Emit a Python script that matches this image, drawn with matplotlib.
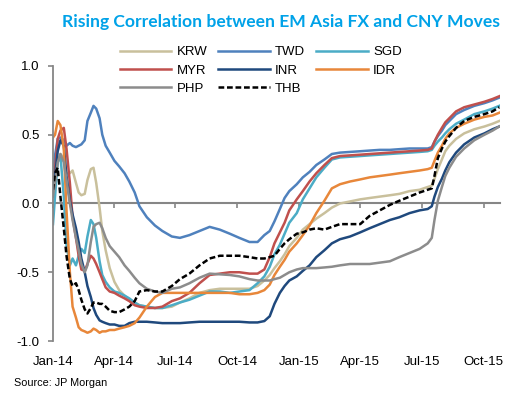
import pandas as pd
import matplotlib
matplotlib.use('Agg')
import matplotlib.pyplot as plt
import matplotlib.dates as mdates

plt.rcParams['font.family'] = ['Liberation Sans', 'DejaVu Sans']

dates = ['2014-01-01', '2014-01-04', '2014-01-08', '2014-01-12', '2014-01-17', '2014-01-21', '2014-01-26', '2014-01-30', '2014-02-04', '2014-02-08',
         '2014-02-12', '2014-02-17', '2014-02-21', '2014-02-26', '2014-03-02', '2014-03-06', '2014-03-11', '2014-03-15', '2014-03-20', '2014-03-26',
         '2014-04-02', '2014-04-09', '2014-04-17', '2014-04-24', '2014-05-02', '2014-05-09', '2014-05-20', '2014-06-01', '2014-06-12', '2014-06-26',
         '2014-07-08', '2014-07-22', '2014-08-06', '2014-08-21', '2014-09-05', '2014-09-20', '2014-10-04', '2014-10-19', '2014-10-31', '2014-11-10',
         '2014-11-18', '2014-11-25', '2014-12-03', '2014-12-10', '2014-12-17', '2014-12-28', '2015-01-06', '2015-01-16', '2015-01-26', '2015-02-07',
         '2015-02-18', '2015-03-02', '2015-03-17', '2015-04-01', '2015-04-15', '2015-04-30', '2015-05-15', '2015-05-29', '2015-06-13', '2015-06-28',
         '2015-07-10', '2015-07-16', '2015-07-20', '2015-07-25', '2015-07-31', '2015-08-05', '2015-08-11', '2015-08-21', '2015-09-02', '2015-09-17',
         '2015-10-02', '2015-10-14', '2015-10-24']

krw = [0.05, 0.15, 0.30, 0.36, 0.33, 0.22, 0.22, 0.24, 0.15, 0.08,
       0.06, 0.07, 0.17, 0.25, 0.26, 0.15, -0.03, -0.20, -0.34, -0.47,
       -0.57, -0.63, -0.67, -0.70, -0.72, -0.74, -0.75, -0.76, -0.76, -0.75,
       -0.72, -0.69, -0.65, -0.63, -0.62, -0.62, -0.62, -0.62, -0.60, -0.56,
       -0.52, -0.47, -0.42, -0.37, -0.31, -0.25, -0.19, -0.15, -0.11, -0.07,
       -0.03, 0.0, 0.015, 0.03, 0.04, 0.05, 0.06, 0.07, 0.09, 0.10,
       0.12, 0.13, 0.18, 0.25, 0.32, 0.38, 0.42, 0.47, 0.51, 0.54,
       0.56, 0.58, 0.60]

twd = [0.20, 0.35, 0.47, 0.48, 0.46, 0.42, 0.44, 0.42, 0.41, 0.42,
       0.43, 0.46, 0.60, 0.66, 0.71, 0.69, 0.62, 0.50, 0.42, 0.37,
       0.31, 0.27, 0.22, 0.16, 0.08, -0.02, -0.10, -0.16, -0.20, -0.24,
       -0.25, -0.23, -0.20, -0.17, -0.19, -0.22, -0.25, -0.28, -0.28, -0.23,
       -0.20, -0.13, -0.04, 0.04, 0.09, 0.14, 0.19, 0.23, 0.28, 0.32,
       0.36, 0.37, 0.375, 0.38, 0.385, 0.39, 0.39, 0.395, 0.40, 0.40,
       0.40, 0.41, 0.45, 0.49, 0.53, 0.57, 0.60, 0.65, 0.68, 0.71,
       0.73, 0.75, 0.77]

sgd = [-0.15, 0.05, 0.30, 0.35, 0.05, -0.30, -0.45, -0.40, -0.45, -0.38,
       -0.33, -0.36, -0.24, -0.12, -0.15, -0.25, -0.42, -0.52, -0.57, -0.61,
       -0.64, -0.65, -0.67, -0.69, -0.72, -0.74, -0.75, -0.76, -0.76, -0.74,
       -0.72, -0.70, -0.67, -0.64, -0.64, -0.65, -0.64, -0.63, -0.58, -0.53,
       -0.46, -0.37, -0.30, -0.22, -0.14, -0.07, 0.03, 0.11, 0.19, 0.26,
       0.32, 0.335, 0.34, 0.345, 0.35, 0.355, 0.36, 0.365, 0.37, 0.375,
       0.38, 0.39, 0.42, 0.45, 0.48, 0.51, 0.54, 0.58, 0.61, 0.65,
       0.67, 0.69, 0.71]

myr = [0.15, 0.25, 0.47, 0.53, 0.55, 0.40, 0.15, -0.10, -0.25, -0.38,
       -0.48, -0.49, -0.44, -0.38, -0.40, -0.44, -0.50, -0.55, -0.61, -0.64,
       -0.65, -0.67, -0.69, -0.71, -0.74, -0.75, -0.76, -0.76, -0.75, -0.71,
       -0.69, -0.65, -0.58, -0.52, -0.51, -0.50, -0.50, -0.51, -0.51, -0.48,
       -0.39, -0.29, -0.21, -0.14, -0.05, 0.03, 0.09, 0.16, 0.22, 0.28,
       0.33, 0.345, 0.35, 0.355, 0.36, 0.365, 0.37, 0.375, 0.38, 0.385,
       0.39, 0.40, 0.45, 0.50, 0.55, 0.59, 0.62, 0.67, 0.70, 0.72,
       0.74, 0.76, 0.78]

inr = [0.10, 0.20, 0.38, 0.46, 0.42, 0.20, 0.02, -0.08, -0.18, -0.28,
       -0.40, -0.50, -0.60, -0.68, -0.76, -0.81, -0.85, -0.86, -0.87, -0.88,
       -0.88, -0.89, -0.89, -0.87, -0.86, -0.86, -0.86, -0.865, -0.87, -0.87,
       -0.87, -0.865, -0.86, -0.86, -0.86, -0.86, -0.86, -0.865, -0.865, -0.855,
       -0.82, -0.73, -0.65, -0.60, -0.56, -0.53, -0.49, -0.45, -0.39, -0.34,
       -0.29, -0.26, -0.24, -0.21, -0.18, -0.15, -0.12, -0.10, -0.07, -0.05,
       -0.04, -0.02, 0.05, 0.12, 0.18, 0.24, 0.30, 0.37, 0.43, 0.48,
       0.51, 0.54, 0.56]

idr = [0.48, 0.50, 0.60, 0.57, 0.40, -0.05, -0.50, -0.75, -0.83, -0.90,
       -0.92, -0.93, -0.94, -0.93, -0.91, -0.92, -0.94, -0.93, -0.93, -0.92,
       -0.92, -0.91, -0.90, -0.89, -0.87, -0.83, -0.75, -0.68, -0.65, -0.65,
       -0.65, -0.65, -0.65, -0.65, -0.65, -0.65, -0.66, -0.66, -0.65, -0.63,
       -0.59, -0.52, -0.46, -0.41, -0.35, -0.29, -0.23, -0.16, -0.07, 0.02,
       0.11, 0.14, 0.16, 0.175, 0.19, 0.20, 0.21, 0.22, 0.23, 0.24,
       0.25, 0.26, 0.31, 0.37, 0.42, 0.47, 0.51, 0.55, 0.58, 0.61,
       0.63, 0.64, 0.66]

php = [0.05, 0.15, 0.30, 0.36, 0.30, 0.17, 0.00, -0.12, -0.25, -0.34,
       -0.44, -0.50, -0.45, -0.28, -0.17, -0.15, -0.14, -0.18, -0.25, -0.31,
       -0.35, -0.39, -0.45, -0.49, -0.54, -0.58, -0.62, -0.64, -0.65, -0.62,
       -0.61, -0.58, -0.54, -0.51, -0.515, -0.52, -0.53, -0.55, -0.56, -0.56,
       -0.56, -0.55, -0.54, -0.52, -0.50, -0.48, -0.47, -0.47, -0.47, -0.465,
       -0.46, -0.45, -0.44, -0.44, -0.44, -0.43, -0.42, -0.39, -0.36, -0.33,
       -0.29, -0.25, -0.12, 0.02, 0.12, 0.20, 0.26, 0.34, 0.40, 0.46,
       0.50, 0.53, 0.56]

thb = [0.10, 0.22, 0.26, 0.05, -0.18, -0.38, -0.55, -0.60, -0.58, -0.63,
       -0.70, -0.77, -0.80, -0.76, -0.72, -0.72, -0.73, -0.73, -0.75, -0.78,
       -0.79, -0.79, -0.77, -0.75, -0.71, -0.64, -0.63, -0.64, -0.64, -0.60,
       -0.55, -0.51, -0.45, -0.40, -0.38, -0.38, -0.38, -0.39, -0.40, -0.40,
       -0.39, -0.38, -0.33, -0.29, -0.26, -0.22, -0.21, -0.19, -0.18, -0.19,
       -0.17, -0.15, -0.15, -0.15, -0.09, -0.05, -0.01, 0.02, 0.05, 0.08,
       0.10, 0.11, 0.20, 0.33, 0.40, 0.45, 0.49, 0.55, 0.60, 0.63,
       0.65, 0.67, 0.70]

x = pd.to_datetime(dates)
grey = '#868686'

fig = plt.figure(figsize=(5.14, 3.98), dpi=100)
ax = fig.add_axes([0.1031, 0.1432, 0.8696, 0.691])

lw = 1.8
l_krw, = ax.plot(x, krw, color='#c9c09c', lw=lw, label='KRW')
l_twd, = ax.plot(x, twd, color='#4f81bd', lw=lw, label='TWD')
l_sgd, = ax.plot(x, sgd, color='#4bacc6', lw=lw, label='SGD')
l_myr, = ax.plot(x, myr, color='#c0504d', lw=lw, label='MYR')
l_inr, = ax.plot(x, inr, color='#1f497d', lw=lw, label='INR')
l_idr, = ax.plot(x, idr, color='#e8873a', lw=lw, label='IDR')
l_php, = ax.plot(x, php, color='#8c8c8c', lw=lw, label='PHP')
l_thb, = ax.plot(x, thb, color='black', lw=lw, dashes=(2.3, 1.1), label='THB')

ax.set_ylim(-1, 1)
ax.set_xlim(pd.Timestamp('2014-01-01'), pd.Timestamp('2015-10-25'))
ax.set_yticks([-1.0, -0.5, 0.0, 0.5, 1.0])
ax.set_yticklabels(['-1.0', '-0.5', '0.0', '0.5', '1.0'])

for s in ['top', 'right']:
    ax.spines[s].set_visible(False)
ax.spines['left'].set_color(grey)
ax.spines['left'].set_linewidth(1.3)
ax.spines['bottom'].set_position(('data', 0))
ax.spines['bottom'].set_color(grey)
ax.spines['bottom'].set_linewidth(1.5)
ax.spines['bottom'].set_zorder(0.5)

quarters = mdates.MonthLocator(bymonth=[1, 4, 7, 10])
ax.xaxis.set_major_locator(quarters)
ax.tick_params(axis='x', direction='out', length=3.5, width=1.2, color=grey, labelbottom=False)
ax.tick_params(axis='y', direction='out', length=3.6, width=1.2, color=grey, pad=6, labelsize=9.5)

# month labels sit under the plot, the axis line itself is at zero
sec = ax.secondary_xaxis('bottom')
sec.xaxis.set_major_locator(mdates.MonthLocator(bymonth=[1, 4, 7, 10]))
sec.xaxis.set_major_formatter(mdates.DateFormatter('%b-%y'))
sec.spines['bottom'].set_visible(False)
sec.tick_params(length=0, pad=11, labelsize=9.5)

handles = [l_krw, l_myr, l_php, l_twd, l_inr, l_thb, l_sgd, l_idr]
fig.legend(handles=handles, ncol=3, loc='upper left', bbox_to_anchor=(0.2335, 0.884),
           frameon=False, fontsize=9.5, handlelength=3.9, handletextpad=0.4,
           columnspacing=0.83, labelspacing=0.45, borderpad=0, borderaxespad=0)

fig.text(500 / 514, 0.945, 'Rising Correlation between EM Asia FX and CNY Moves',
         ha='right', va='center', fontsize=12.6, fontweight='bold', color='#00a2e8',
         family=['Lato', 'DejaVu Sans'])
fig.text(14 / 514, 1 - 383 / 398, 'Source: JP Morgan', ha='left', va='center', fontsize=7.8)

plt.savefig('out.png', dpi=100)
